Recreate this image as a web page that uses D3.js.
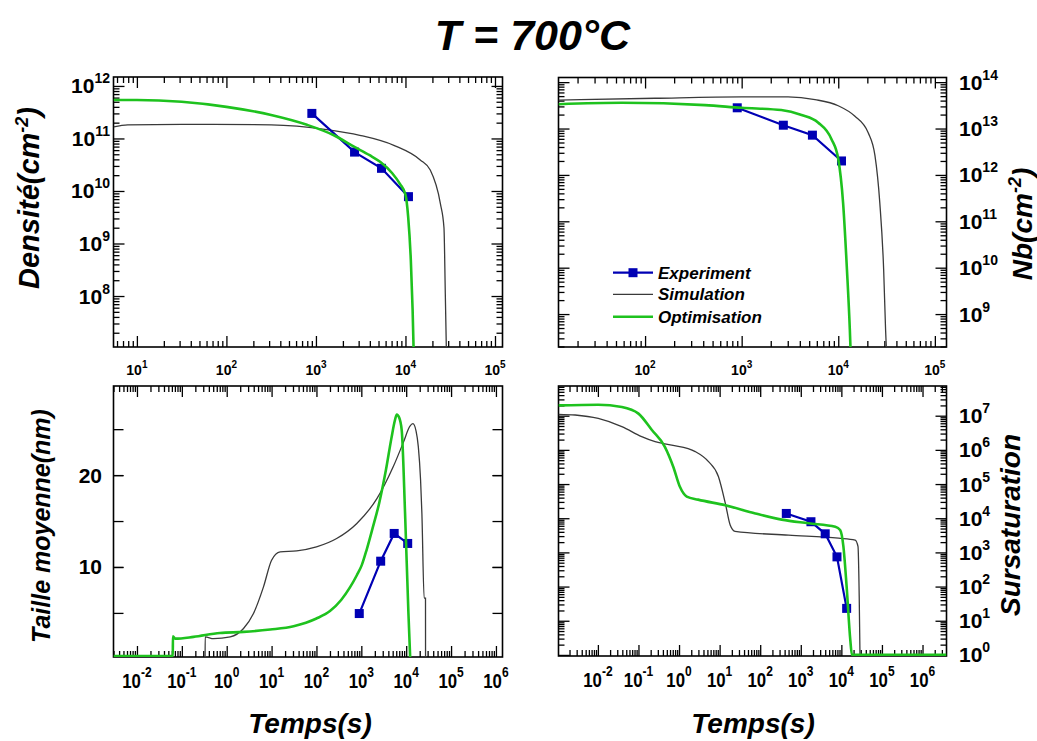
<!DOCTYPE html>
<html><head><meta charset="utf-8">
<script src="https://cdn.jsdelivr.net/npm/d3@7"></script>
<style>
body{margin:0;background:#fff}
svg{display:block}
text{font-family:"Liberation Sans",Arial,sans-serif;font-weight:bold;fill:#000}
</style>
</head><body>
<svg id="c" width="1037" height="741"></svg>
<script>
// ---------------- DATA ----------------
// Experiment (blue squares)
const expTime = [900, 2700, 5400, 10800];
const densExp = [3.0e11, 5.5e10, 2.7e10, 7.8e9];
const nbExp = [2.8e13, 1.18e13, 7.2e12, 2.0e12];
const sizeExp = [4.93, 10.63, 13.65, 12.56];
const sursatExpTime = [440, 1780, 4000, 7800, 13500];
const sursatExp = [1.38e4, 7.9e3, 3.5e3, 740, 23];

// Density (cm^-2)
const densSimTime = [5.5, 7.9, 31.6, 316, 1318, 3090, 7410, 14620, 18920, 24550, 26920, 27860, 28840];
const densSim = [1.66e11, 1.82e11, 1.86e11, 1.82e11, 1.48e11, 1.15e11, 7.4e10, 3.9e10, 2.5e10, 5.75e9, 2.0e9, 1.1e8, 5e6];
const densOptTime = [5.5, 10, 31.6, 100, 316, 794, 1585, 2690, 3980, 5250, 7080, 8710, 10000, 10720, 11480, 12020, 12450];
const densOpt = [5.4e11, 5.4e11, 5.0e11, 4.0e11, 2.8e11, 1.82e11, 1.15e11, 6.9e10, 4.8e10, 3.55e10, 2.2e10, 1.35e10, 8.5e9, 3.2e9, 4.8e8, 5.4e7, 5e6];

// Nb (cm^-2)
const nbSimTime = [12.7, 127, 1000, 3020, 5750, 10000, 14790, 20420, 23990, 26920, 29510, 30900, 33110];
const nbSim = [4.1e13, 4.5e13, 4.8e13, 4.8e13, 4.2e13, 3.1e13, 1.86e13, 8.1e12, 2.6e12, 2.5e11, 9.1e9, 4.6e8, 3e7];
const nbOptTime = [12.7, 57.5, 417, 1000, 2570, 4170, 6170, 8510, 10000, 11220, 12300, 13180, 13800];
const nbOpt = [3.35e13, 3.6e13, 3.2e13, 2.8e13, 2.5e13, 1.95e13, 1.35e13, 5.9e12, 2.2e12, 2.5e11, 9.1e9, 4.6e8, 3e7];

// Taille moyenne (nm)
const sizeSimTime = [0.33, 0.331, 0.51, 1.2, 2.37, 3.95, 6.6, 10, 15.5, 36.3, 100, 282, 794, 2240, 5130, 8710, 12020, 14130, 16600, 18620, 20900, 22390, 25120, 26920, 27000];
const sizeSim = [0, 2.39, 2.2, 2.39, 3.3, 4.93, 7.83, 10.74, 11.65, 11.76, 12.19, 13.1, 14.74, 17.46, 20.9, 23.6, 25.3, 25.6, 24.8, 23.1, 19.5, 15.8, 6.6, 6.6, 0];
const sizeOptTime = [0.003, 0.063, 0.0632, 0.0713, 0.182, 0.708, 2.37, 9.33, 30.9, 100, 200, 355, 562, 794, 1023, 1318, 1778, 2512, 3548, 4677, 5623, 6166, 6918, 7943, 9441, 11220, 12300];
const sizeOpt = [0.3, 0.3, 2.46, 2.2, 2.39, 2.82, 2.93, 3.19, 3.55, 4.39, 5.2, 6.4, 7.8, 9.1, 10.2, 11.9, 14.2, 17.0, 20.6, 24.0, 26.0, 26.6, 26.3, 24.9, 15.8, 4.93, 0];

// Sursaturation
const sursatSimTime = [1.07e-3, 2.75e-3, 0.0102, 0.0389, 0.12, 0.257, 0.66, 2.51, 5.25, 9.33, 13.8, 18.2, 24, 501, 8510, 21880, 25700, 27540, 28840];
const sursatSim = [1.1e7, 1.05e7, 8.3e6, 4.8e6, 2.45e6, 1.74e6, 1.38e6, 8.9e5, 4.6e5, 1.66e5, 2.75e4, 6.3e3, 4.1e3, 3.2e3, 2.6e3, 2.3e3, 1.5e3, 51, 0.8];
const sursatOptTime = [1.07e-3, 0.0102, 0.0389, 0.1, 0.214, 0.447, 0.724, 1.05, 1.55, 2.95, 13.8, 75.9, 339, 1550, 7080, 9330, 11220, 13490, 16600, 18200, 3.9e6];
const sursatOpt = [2.0e7, 2.1e7, 1.8e7, 1.15e7, 3.8e6, 1.23e6, 3.16e5, 8.3e4, 4.3e4, 3.5e4, 2.4e4, 1.38e4, 9.1e3, 7.1e3, 5.6e3, 4.5e3, 1.5e3, 100, 2.75, 1, 1];

// Tick labels (exponents of 10 / linear values)
const densTimeExps = ["1", "2", "3", "4", "5"];
const nbTimeExps = ["2", "3", "4", "5"];
const longTimeExps = ["-2", "-1", "0", "1", "2", "3", "4", "5", "6"];
const densExps = ["8", "9", "10", "11", "12"];
const nbExps = ["9", "10", "11", "12", "13", "14"];
const sizeTicks = [10, 20];
const sizeMinorTicks = [5, 15, 25];
const sursatExps = ["0", "1", "2", "3", "4", "5", "6", "7"];

const legendLabels = ["Experiment", "Simulation", "Optimisation"];

// ---------------- STYLE ----------------
const BLUE = "#0000b4", GREEN = "#1ec21e", GRAY = "#3a3a3a";

const svg = d3.select("#c");

function logMinors(d) {
  const out = [];
  const a = Math.floor(Math.log10(d[0])), b = Math.ceil(Math.log10(d[1]));
  for (let e = a; e <= b; e++) for (let k = 2; k <= 9; k++) {
    const v = k * Math.pow(10, e);
    if (v >= d[0] && v <= d[1]) out.push(v);
  }
  return out;
}
function logMajors(d) {
  const out = [];
  for (let e = Math.ceil(Math.log10(d[0]) - 1e-9); e <= Math.floor(Math.log10(d[1]) + 1e-9); e++) out.push(Math.pow(10, e));
  return out;
}
function pow10Label(t, exp, es, dy) {
  t.append("tspan").text("10");
  t.append("tspan").attr("dy", dy).attr("font-size", es).text(exp);
}

let clipId = 0;
function panel(cfg) {
  const g = svg.append("g");
  const x = d3.scaleLog().domain(cfg.xd).range([cfg.x0, cfg.x1]);
  const y = (cfg.ylin ? d3.scaleLinear() : d3.scaleLog()).domain(cfg.yd).range([cfg.y1, cfg.y0]);

  // ticks (inward on all four sides)
  const xMaj = logMajors(cfg.xd), xMin = logMinors(cfg.xd);
  const yMaj = cfg.ylin ? cfg.yMajor : logMajors(cfg.yd);
  const yMin = cfg.ylin ? cfg.yMinor : logMinors(cfg.yd);
  const mk = (axisFn, scale, vals, len, tr) => {
    const a = axisFn(scale).tickValues(vals).tickSizeInner(-len).tickSizeOuter(0).tickFormat("");
    const ga = g.append("g").attr("transform", tr).call(a);
    ga.select(".domain").remove();
    ga.selectAll("line").attr("stroke", "#000").attr("stroke-width", 1.3);
  };
  const xm = 11, xn = 6, ym = cfg.ylin ? 10 : 11, yn = cfg.ylin ? 10 : 6;
  mk(d3.axisBottom, x, xMaj, xm, `translate(0,${cfg.y1})`);
  mk(d3.axisBottom, x, xMin, xn, `translate(0,${cfg.y1})`);
  mk(d3.axisTop, x, xMaj, xm, `translate(0,${cfg.y0})`);
  mk(d3.axisTop, x, xMin, xn, `translate(0,${cfg.y0})`);
  mk(d3.axisLeft, y, yMaj, ym, `translate(${cfg.x0},0)`);
  mk(d3.axisLeft, y, yMin, yn, `translate(${cfg.x0},0)`);
  mk(d3.axisRight, y, yMaj, ym, `translate(${cfg.x1},0)`);
  mk(d3.axisRight, y, yMin, yn, `translate(${cfg.x1},0)`);

  // frame
  g.append("rect").attr("x", cfg.x0).attr("y", cfg.y0)
    .attr("width", cfg.x1 - cfg.x0).attr("height", cfg.y1 - cfg.y0)
    .attr("fill", "none").attr("stroke", "#000").attr("stroke-width", 1.6);

  // x tick labels
  const xl = cfg.xLab;
  cfg.xExps.forEach(e => {
    const t = g.append("text")
      .attr("transform", `translate(${x(Math.pow(10, +e))},${cfg.y1 + xl.off}) scale(${xl.sx},1)`)
      .attr("text-anchor", "middle").attr("font-size", xl.fs);
    pow10Label(t, e, xl.es, xl.dy);
  });
  // y tick labels
  if (cfg.ylin) {
    cfg.yMajor.forEach(v => {
      g.append("text").attr("x", cfg.yLabX).attr("y", y(v) + 7.5)
        .attr("text-anchor", "end").attr("font-size", 21).text(v);
    });
  } else {
    cfg.yExps.forEach(e => {
      const t = g.append("text").attr("x", cfg.yLabX).attr("y", y(Math.pow(10, +e)) + 7.5)
        .attr("text-anchor", cfg.yRight ? "start" : "end").attr("font-size", 21);
      pow10Label(t, e, 14, -10);
    });
  }

  // series
  const id = "clip" + (clipId++);
  svg.append("clipPath").attr("id", id).append("rect")
    .attr("x", cfg.x0).attr("y", cfg.y0).attr("width", cfg.x1 - cfg.x0).attr("height", cfg.y1 - cfg.y0);
  const pg = g.append("g").attr("clip-path", `url(#${id})`);
  const line = d3.line().x(d => x(d[0])).y(d => y(d[1])).curve(d3.curveMonotoneX);
  const lin = d3.line().x(d => x(d[0])).y(d => y(d[1]));
  pg.append("path").datum(d3.zip(cfg.simT, cfg.sim)).attr("d", line)
    .attr("fill", "none").attr("stroke", GRAY).attr("stroke-width", 1.3);
  pg.append("path").datum(d3.zip(cfg.expT, cfg.exp)).attr("d", lin)
    .attr("fill", "none").attr("stroke", BLUE).attr("stroke-width", 2.2);
  pg.selectAll("rect.m").data(d3.zip(cfg.expT, cfg.exp)).enter().append("rect")
    .attr("x", d => x(d[0]) - 4.5).attr("y", d => y(d[1]) - 4.5)
    .attr("width", 9).attr("height", 9).attr("fill", BLUE);
  pg.append("path").datum(d3.zip(cfg.optT, cfg.opt)).attr("d", line)
    .attr("fill", "none").attr("stroke", GREEN).attr("stroke-width", 2.6).attr("stroke-linejoin", "round");
  return {x, y, g};
}

const topXLab = {fs: 14, es: 10, dy: -7, sx: 1, off: 27.5};
const botXLab = {fs: 21, es: 15, dy: -11, sx: 0.8, off: 30.5};

panel({x0: 113.5, x1: 502.5, y0: 77, y1: 347, xd: [5.48, 1.213e5], yd: [1.07e7, 1.48e12],
  xExps: densTimeExps, yExps: densExps, yLabX: 110, xLab: topXLab,
  simT: densSimTime, sim: densSim, optT: densOptTime, opt: densOpt, expT: expTime, exp: densExp});
panel({x0: 558.5, x1: 946.5, y0: 77.5, y1: 347, xd: [12.7, 1.32e5], yd: [1.95e8, 1.26e14],
  xExps: nbTimeExps, yExps: nbExps, yLabX: 959, yRight: true, xLab: topXLab,
  simT: nbSimTime, sim: nbSim, optT: nbOptTime, opt: nbOpt, expT: expTime, exp: nbExp});
panel({x0: 113.5, x1: 502.5, y0: 386, y1: 657, xd: [3.0e-3, 1.4e6], yd: [0.2, 29.7], ylin: true,
  yMajor: sizeTicks, yMinor: sizeMinorTicks.concat(sizeTicks), xExps: longTimeExps, yLabX: 102, xLab: botXLab,
  simT: sizeSimTime, sim: sizeSim, optT: sizeOptTime, opt: sizeOpt, expT: expTime, exp: sizeExp});
panel({x0: 558.5, x1: 946.5, y0: 386, y1: 656, xd: [1.07e-3, 3.9e6], yd: [0.93, 7.4e7],
  xExps: longTimeExps, yExps: sursatExps, yLabX: 959, yRight: true, xLab: botXLab,
  simT: sursatSimTime, sim: sursatSim, optT: sursatOptTime, opt: sursatOpt, expT: sursatExpTime, exp: sursatExp});

// legend
const lg = svg.append("g");
const legY = [272.7, 294.3, 316.7];
const legColor = [BLUE, GRAY, GREEN];
const legW = [2.2, 1.3, 2.6];
legendLabels.forEach((lab, i) => {
  lg.append("line").attr("x1", 613).attr("x2", 653).attr("y1", legY[i]).attr("y2", legY[i])
    .attr("stroke", legColor[i]).attr("stroke-width", legW[i]);
  if (i === 0) lg.append("rect").attr("x", 628.5).attr("y", legY[i] - 4.5).attr("width", 9).attr("height", 9).attr("fill", BLUE);
  lg.append("text").attr("x", 658).attr("y", legY[i] + 6).attr("font-size", 17)
    .attr("font-style", "italic").text(lab);
});

// title
svg.append("text").attr("x", 532.5).attr("y", 50).attr("text-anchor", "middle")
  .attr("font-size", 43).attr("font-style", "italic").text("T = 700°C");

// axis titles
function vtitle(cx, cy, size, parts) {
  const t = svg.append("text").attr("transform", `translate(${cx},${cy}) rotate(-90)`)
    .attr("text-anchor", "middle").attr("font-size", size).attr("font-style", "italic");
  parts(t);
}
vtitle(38.5, 198, 29, t => {
  t.append("tspan").text("Densité(cm");
  t.append("tspan").attr("dy", -11).attr("font-size", 18).text("-2");
  t.append("tspan").attr("dy", 11).text(")");
});
vtitle(1031.5, 224, 28, t => {
  t.append("tspan").text("Nb(cm");
  t.append("tspan").attr("dy", -11).attr("font-size", 18).text("-2");
  t.append("tspan").attr("dy", 11).text(")");
});
vtitle(50, 526, 25, t => t.append("tspan").text("Taille moyenne(nm)"));
vtitle(1020, 525, 28, t => t.append("tspan").text("Sursaturation"));

svg.append("text").attr("x", 310).attr("y", 733).attr("text-anchor", "middle")
  .attr("font-size", 28).attr("font-style", "italic").text("Temps(s)");
svg.append("text").attr("x", 753).attr("y", 733).attr("text-anchor", "middle")
  .attr("font-size", 28).attr("font-style", "italic").text("Temps(s)");
</script>
</body></html>
